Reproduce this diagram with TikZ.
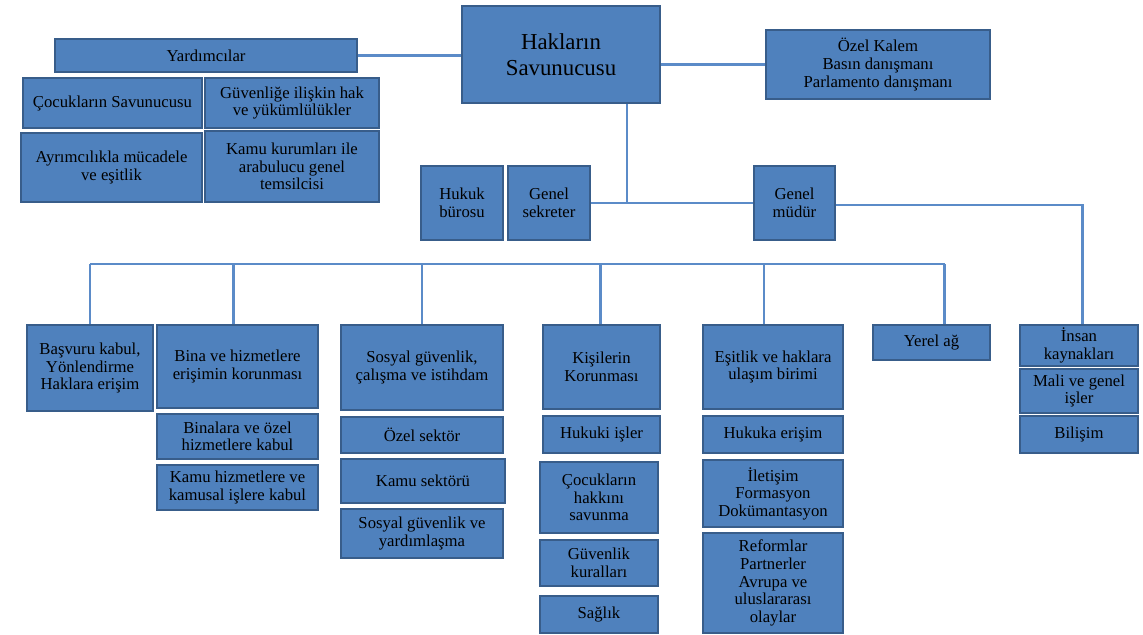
\documentclass[tikz,border=0pt]{standalone}
\usepackage{fontspec}
\setmainfont{Liberation Serif}
\newfontfamily\kutuyazi{Liberation Serif}
\usetikzlibrary{positioning}

\definecolor{kutumavi}{HTML}{4F81BD}
\definecolor{kenarmavi}{HTML}{385D8A}
\definecolor{hatmavi}{HTML}{5B8BC8}

\def\px{0.02cm} % bir piksel

% kutu: [secenek], ad, sol, ust, sag, alt, metin
\newcommand{\kutu}[7][]{%
  \node[kutu, minimum width={(#5-#3)*\px}, minimum height={(#6-#4)*\px}, #1]
    (#2) at ({(#3+#5)/2},{(#4+#6)/2}) {#7};}

\tikzset{
  kutu/.style={draw=kenarmavi, fill=kutumavi, line width=1pt, align=center,
    inner sep=1pt, font=\kutuyazi\fontsize{9.5}{10}\selectfont},
  buyuk/.style={font=\kutuyazi\fontsize{13}{15}\selectfont},
  hat/.style={draw=hatmavi, line width=1.2pt}
}

\begin{document}
\begin{tikzpicture}[x=0.02cm, y=-0.02cm]
\useasboundingbox (0,0) rectangle (1143,635);

% ust kisim
\kutu[buyuk]{hak}{462}{6}{660}{103}{Hakların\\Savunucusu}
\kutu{yard}{55}{39}{357}{72}{Yardımcılar}
\kutu{cocsav}{23}{78}{202}{128}{Çocukların Savunucusu}
\kutu{guven}{205}{78}{379}{128}{Güvenliğe ilişkin hak\\ve yükümlülükler}
\kutu{ayrim}{21}{133}{202}{202}{Ayrımcılıkla mücadele\\ve eşitlik}
\kutu{kamukur}{205}{131}{379}{202}{Kamu kurumları ile\\arabulucu genel\\temsilcisi}
\kutu{ozel}{766}{30}{990}{99}{Özel Kalem\\Basın danışmanı\\Parlamento danışmanı}
\kutu{hukuk}{421}{166}{503}{240}{Hukuk\\bürosu}
\kutu{sek}{508}{166}{590}{240}{Genel\\sekreter}
\kutu{mud}{754}{166}{835}{240}{Genel\\müdür}

% birimler
\kutu{basvuru}{27}{325}{153}{411}{Başvuru kabul,\\Yönlendirme\\Haklara erişim}
\kutu{bina}{157}{325}{318}{408}{Bina ve hizmetlere\\erişimin korunması}
\kutu{binalara}{157}{414}{318}{459}{Binalara ve özel\\hizmetlere kabul}
\kutu{kamuhiz}{157}{465}{318}{510}{Kamu hizmetlere ve\\kamusal işlere kabul}
\kutu{sosyal}{341}{325}{503}{410}{Sosyal güvenlik,\\çalışma ve istihdam}
\kutu{ozelsek}{341}{417}{503}{453}{Özel sektör}
\kutu{kamusek}{341}{459}{505}{503}{Kamu sektörü}
\kutu{yardim}{341}{509}{503}{558}{Sosyal güvenlik ve\\yardımlaşma}
\kutu{kisi}{543}{325}{660}{409}{Kişilerin\\Korunması}
\kutu{hukuki}{543}{416}{660}{453}{Hukuki işler}
\kutu{cochak}{540}{462}{658}{533}{Çocukların\\hakkını\\savunma}
\kutu{guvkur}{540}{540}{658}{586}{Güvenlik\\kuralları}
\kutu{saglik}{540}{596}{658}{633}{Sağlık}
\kutu{esit}{703}{325}{843}{409}{Eşitlik ve haklara\\ulaşım birimi}
\kutu{hukuka}{703}{416}{843}{453}{Hukuka erişim}
\kutu{iletisim}{703}{460}{843}{527}{İletişim\\Formasyon\\Dokümantasyon}
\kutu{reform}{703}{533}{843}{633}{Reformlar\\Partnerler\\Avrupa ve\\uluslararası\\olaylar}
\kutu{yerel}{873}{325}{990}{360}{Yerel ağ}
\kutu{ik}{1020}{325}{1138}{366}{İnsan\\kaynakları}
\kutu{mali}{1020}{369}{1138}{413}{Mali ve genel\\işler}
\kutu{bilisim}{1020}{416}{1138}{453}{Bilişim}

% baglantilar
\coordinate (orta) at (627,204);
\coordinate (hatsol) at (90,264);
\coordinate (hatsag) at (945,264);
\draw[hat] (yard.east) -- (yard.east -| hak.west);
\draw[hat] (ozel.west) -- (ozel.west -| hak.east);
\draw[hat] (hak.south -| orta) -- (orta);
\draw[hat] (sek.east) -- (mud.west);
\draw[hat] ([yshift=-1pt]mud.east) -| ([xshift=2pt]ik.north);
\draw[hat] (hatsol) -- (hatsag);
\foreach \n/\dx in {basvuru/0, bina/-4, sosyal/0, kisi/-1, esit/-9, yerel/13}
  \draw[hat] ([xshift=\dx*\px]\n.north) -- ([xshift=\dx*\px]\n.north |- hatsol);

\end{tikzpicture}
\end{document}
